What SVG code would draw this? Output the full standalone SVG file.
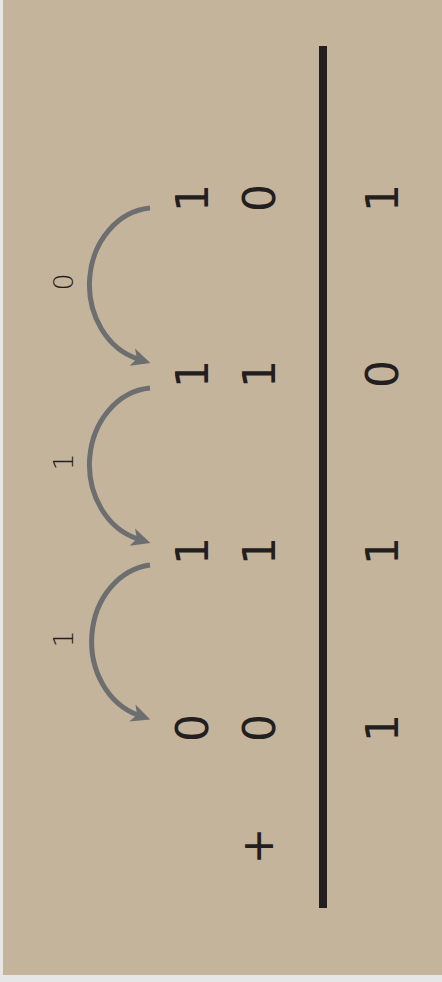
<svg xmlns="http://www.w3.org/2000/svg" width="442" height="982" viewBox="0 0 442 982">
<style>
.d{font-family:"DejaVu Sans",sans-serif;font-size:44px;fill:#231f20;text-anchor:middle}
.c{font-family:"DejaVu Sans",sans-serif;font-size:27px;fill:#231f20;text-anchor:middle;font-weight:300}
.arc{fill:none;stroke:#6d6e70;stroke-width:5;marker-end:url(#ah)}
</style>
<defs>
<marker id="ah" viewBox="0 0 20 20" markerWidth="20" markerHeight="20" markerUnits="userSpaceOnUse" refX="6" refY="10" orient="auto">
<path d="M19,10 L0,1 L5,10 L0,19 Z" fill="#6d6e70"/>
</marker>
</defs>
<rect x="0" y="0" width="442" height="982" fill="#e6e6e6"/>
<rect x="3" y="0" width="439" height="975" fill="#c4b49c"/>
<g id="connectors">
<path class="arc" d="M150,208 A66,77 0 0 0 138,359"/>
<path class="arc" d="M150,388 A66,77 0 0 0 138,539"/>
<path class="arc" d="M150,565 A66,77 0 0 0 138,715"/>
</g>
<g id="carries">
<text class="c" transform="translate(73,282) rotate(-90)">0</text>
<text class="c" transform="translate(73,462) rotate(-90)">1</text>
<text class="c" transform="translate(73,639) rotate(-90)">1</text>
</g>
<g id="row1">
<text class="d" transform="translate(208,198) rotate(-90)">1</text>
<text class="d" transform="translate(208,374) rotate(-90)">1</text>
<text class="d" transform="translate(208,551) rotate(-90)">1</text>
<text class="d" transform="translate(208,728) rotate(-90)">0</text>
</g>
<g id="row2">
<text class="d" transform="translate(275,198) rotate(-90)">0</text>
<text class="d" transform="translate(275,374) rotate(-90)">1</text>
<text class="d" transform="translate(275,551) rotate(-90)">1</text>
<text class="d" transform="translate(275,728) rotate(-90)">0</text>
</g>
<g id="plus">
<text class="d" transform="translate(273,846) rotate(-90)">+</text>
</g>
<g id="rule">
<rect x="319" y="46" width="8" height="862" fill="#231f20"/>
</g>
<g id="result">
<text class="d" transform="translate(398,198) rotate(-90)">1</text>
<text class="d" transform="translate(398,374) rotate(-90)">0</text>
<text class="d" transform="translate(398,551) rotate(-90)">1</text>
<text class="d" transform="translate(398,728) rotate(-90)">1</text>
</g>
</svg>
